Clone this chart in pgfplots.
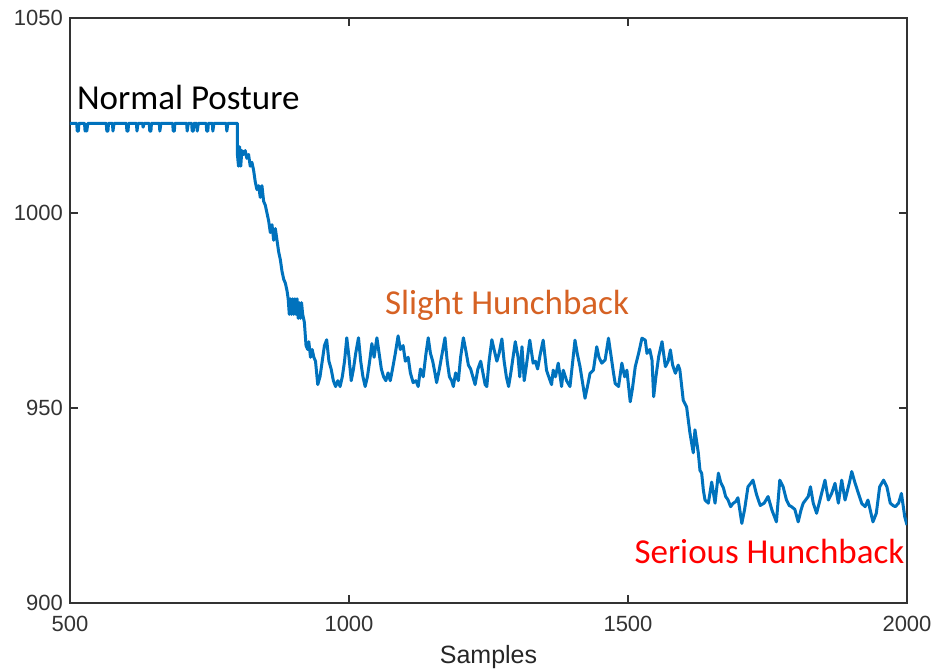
\documentclass[border=0pt]{standalone}
\usepackage{fontspec}
\setmainfont{Liberation Sans}
\newfontfamily\calibri{Carlito}
\usepackage{pgfplots}
\pgfplotsset{compat=1.18}

\definecolor{mblue}{RGB}{0,114,189}
\definecolor{morange}{RGB}{214,98,36}
\definecolor{mred}{RGB}{255,0,0}

\begin{document}
\begin{tikzpicture}
\begin{axis}[
  name=ax,
  scale only axis,
  width=418.5pt, height=292.5pt,
  xmin=500, xmax=2000, ymin=900, ymax=1050,
  xtick={500,1000,1500,2000},
  ytick={900,950,1000,1050},
  axis line style={black!80, line width=0.9pt},
  major tick style={black!80, line width=0.9pt},
  major tick length=4pt,
  tick align=inside,
  /pgf/number format/1000 sep={},
  /pgf/number format/assume math mode=true,
  tick label style={font=\fontsize{11}{13}\selectfont, text=black!80},
  xticklabel style={yshift=-3pt},
  xlabel={Samples},
  xlabel style={font=\fontsize{12.5}{14}\selectfont, text=black!85},
  clip=true,
]
\addplot[mblue, line width=1.5pt, line join=round] coordinates {
(500,1023) (512,1023) (513,1021) (515,1021) (516,1023) (526,1023) (527,1021) (528,1022) (530,1021) (532,1023)
(565,1023) (566,1021) (568,1021) (569,1023) (576,1023) (577,1021) (579,1023) (601,1023) (602,1021) (604,1021) (605,1023)
(619,1023) (620,1021) (622,1023) (630,1023) (631,1022) (633,1023) (642,1023) (643,1021) (645,1021) (646,1023)
(660,1023) (661,1021) (663,1023) (684,1023) (685,1021) (687,1021) (688,1023) (709,1023) (710,1021) (712,1023)
(718,1023) (719,1021) (721,1021) (722,1023) (727,1023) (728,1021) (730,1023) (744,1023) (745,1021) (747,1021) (748,1023)
(755,1023) (756,1021) (758,1023) (780,1023) (781,1021) (783,1023) (800,1023)
(800,1015) (802,1012) (804,1017) (806,1012) (808,1016) (811,1015) (814,1016) (817,1014) (820,1015)
(823,1012) (826,1013) (829,1011) (832,1008) (835,1006) (838,1007) (841,1004) (844,1007) (847,1003)
(850,1002) (853,1000) (856,998) (859,995) (862,997) (865,993) (868,996) (871,993) (874,990) (877,988)
(880,985) (883,983) (886,982) (889,980) (891,978) (893,974) (895,978) (897,974) (899,978) (901,974)
(903,978) (905,974) (907,978) (909,973) (911,977) (913,973) (915,977) (917,974) (920,972)
(923,966) (926,965) (928,967) (931,963) (934,965) (937,963) (940,962) (944,956) (948,958) (952,962)
(956,966) (960,967.5) (964,962) (968,960) (972,957) (976,955.5) (980,957) (984,955.5) (988,958)
(992,962) (996,968) (1000,963) (1004,957) (1008,960) (1012,964) (1017,968) (1021,962) (1025,958)
(1029,955.5) (1033,958) (1037,962) (1041,966.5) (1045,963) (1050,968) (1054,964) (1058,960)
(1062,958) (1066,957) (1070,959) (1074,957) (1078,960) (1083,964) (1088,968.5) (1092,965)
(1097,966) (1101,962) (1106,963) (1110,959) (1115,956.5) (1120,957) (1124,955.5) (1128,960)
(1133,958) (1138,964) (1142,968) (1146,964) (1150,962) (1154,959) (1157,956.5) (1162,960)
(1167,964) (1172,968) (1176,962) (1180,958) (1184,957) (1187,955.5) (1191,959) (1196,957)
(1200,963) (1205,968) (1209,965) (1214,961) (1218,960) (1222,958) (1226,956) (1231,960)
(1236,962) (1240,959) (1244,956) (1247,955.5) (1251,962) (1256,967.5) (1260,965) (1265,962)
(1269,964) (1274,967.7) (1278,962) (1282,958) (1286,955.5) (1290,959) (1294,963) (1298,967)
(1303,963) (1306,958) (1310,965.7) (1314,957) (1318,961) (1324,967.4) (1330,961.5) (1334,962)
(1338,960) (1343,964) (1348,967.4) (1354,959.7) (1358,958) (1363,956) (1366,959.7) (1370,958)
(1375,961.5) (1381,955.5) (1384,959.7) (1390,957) (1396,955.5) (1401,962) (1405,967.4)
(1409,964) (1414,960.6) (1418,957) (1423,952.5) (1428,956) (1432,958.9) (1438,959.7)
(1444,965.7) (1448,963) (1453,961.5) (1459,962.3) (1465,967.9) (1470,963) (1474,959)
(1477,956.3) (1483,955.5) (1489,961.5) (1494,958) (1498,959.7) (1504,951.6) (1508,955)
(1513,960.6) (1519,964) (1525,967.9) (1531,967.4) (1534,964) (1539,965) (1543,962.3)
(1546,952.9) (1550,958) (1555,963.2) (1561,967) (1567,960.6) (1572,962) (1576,964.9)
(1580,961) (1585,958.9) (1590,961) (1593,959.7) (1599,952) (1605,950.3) (1611,943.6)
(1617,938.5) (1620,944.4) (1626,938.5) (1629,934) (1632,933.3) (1635,929) (1638,926.4)
(1644,925.6) (1650,931) (1656,925.6) (1662,933.3) (1666,931) (1671,929.5) (1675,927.3)
(1679,926.5) (1684,924.7) (1688,925.5) (1693,926) (1697,927) (1704,920.4) (1709,924)
(1715,929.8) (1720,930.7) (1724,931.5) (1730,928) (1737,925) (1744,925.6) (1751,927.3)
(1758,923.8) (1766,920.8) (1772,931.5) (1778,929.8) (1784,926.4) (1789,925) (1793,924.7)
(1799,924) (1805,920.8) (1810,923.8) (1814,925.6) (1823,927.3) (1827,929.8) (1832,925.6)
(1838,923) (1844,926.4) (1853,931.5) (1859,926.4) (1865,928.1) (1871,930.7) (1877,925.6)
(1883,931.5) (1889,926.4) (1892,928.1) (1897,931) (1901,933.7) (1907,930.7) (1913,928.1)
(1919,925.5) (1925,924.7) (1930,926.4) (1939,920.8) (1945,923) (1951,929.8) (1958,931.5)
(1964,929.8) (1970,925.6) (1975,925) (1979,924.7) (1985,925.6) (1990,928.1) (1996,922.1)
(2000,920)
};
\node[anchor=west, inner sep=0pt, text=black, font=\calibri\fontsize{17.5}{20}\selectfont]
  at (axis cs:512,1029.7) {Normal Posture};
\node[anchor=west, inner sep=0pt, text=morange, font=\calibri\fontsize{17.5}{20}\selectfont]
  at (axis cs:1064,976.4) {Slight Hunchback};
\node[anchor=west, inner sep=0pt, text=mred, font=\calibri\fontsize{17.5}{20}\selectfont]
  at (axis cs:1511,913.3) {Serious Hunchback};
\end{axis}
\pgfresetboundingbox
\path[use as bounding box] ([xshift=-35pt,yshift=-33pt]ax.south west) rectangle ([xshift=13pt,yshift=9pt]ax.north east);
\end{tikzpicture}
\end{document}
